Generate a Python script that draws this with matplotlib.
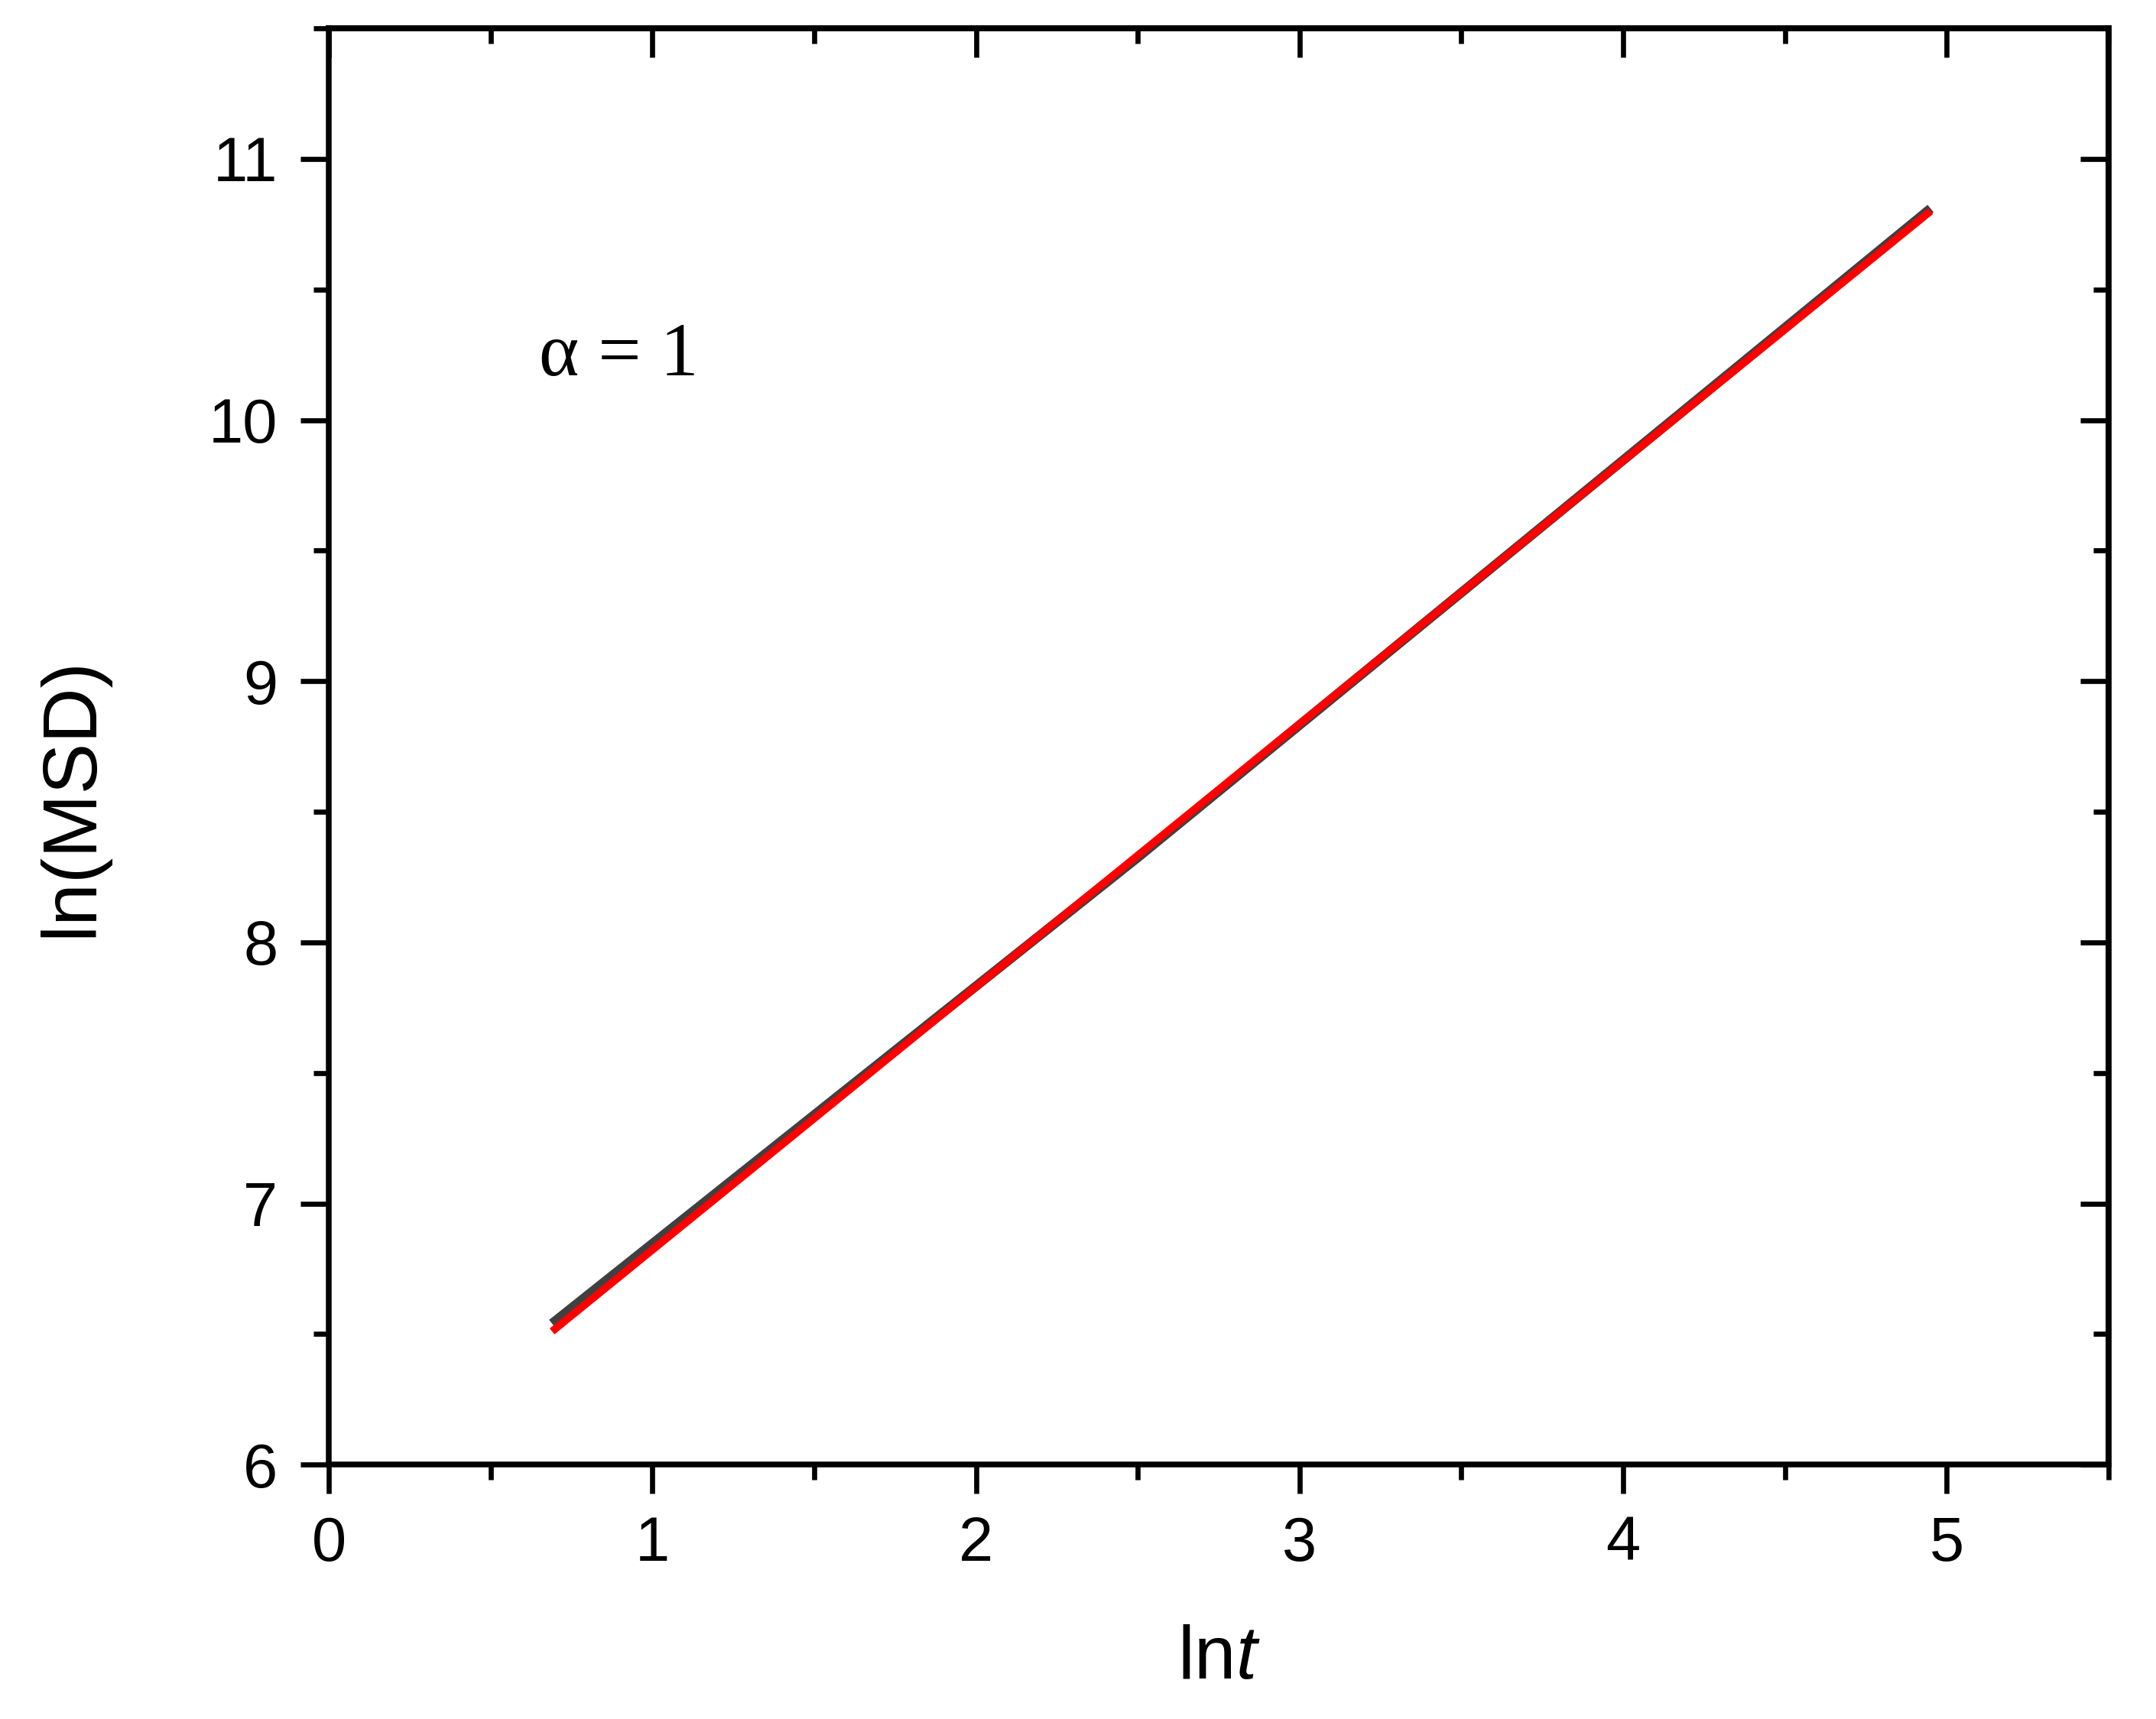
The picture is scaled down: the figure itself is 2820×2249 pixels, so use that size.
import matplotlib.pyplot as plt
from matplotlib.ticker import MultipleLocator

# ln(t) vs ln(MSD), simulation (black) and fit (red)
sim_lnt = [0.69, 2.5, 4.95]
sim_lnmsd = [6.54, 8.325, 10.81]
fit_lnt = [0.69, 4.95]
fit_lnmsd = [6.51, 10.80]

x_ticks = [0, 1, 2, 3, 4, 5]
y_ticks = [6, 7, 8, 9, 10, 11]

plt.rcParams['font.family'] = ['Liberation Sans', 'DejaVu Sans']
plt.rcParams['mathtext.fontset'] = 'custom'
plt.rcParams['mathtext.rm'] = 'Liberation Sans'
plt.rcParams['mathtext.it'] = 'Liberation Sans:italic'

fig = plt.figure(figsize=(9.4, 7.4967), dpi=300)
ax = fig.add_axes([0.1525, 0.148, 0.8255, 0.8355])

ax.plot(sim_lnt, sim_lnmsd, color='#404040', lw=3.0, solid_capstyle='butt')
ax.plot(fit_lnt, fit_lnmsd, color='#ff0000', lw=2.4, solid_capstyle='butt')

ax.set_xlim(0, 5.5)
ax.set_ylim(6, 11.5)
ax.set_xticks(x_ticks)
ax.set_yticks(y_ticks)
ax.xaxis.set_minor_locator(MultipleLocator(0.5))
ax.yaxis.set_minor_locator(MultipleLocator(0.5))

for s in ax.spines.values():
    s.set_linewidth(1.8)

ax.tick_params(which='both', direction='out', width=1.6, labelsize=19.5,
               top=False, right=False)
ax.tick_params(which='major', length=9, pad=7)
ax.tick_params(which='minor', length=4.8)

# inward ticks on top and right
ax2 = ax.secondary_xaxis('top')
ax2.set_xticks(x_ticks)
ax2.xaxis.set_minor_locator(MultipleLocator(0.5))
ax2.tick_params(which='both', direction='in', width=1.6, labeltop=False)
ax2.tick_params(which='major', length=9)
ax2.tick_params(which='minor', length=4.8)
ax2.spines['top'].set_linewidth(1.8)
ax3 = ax.secondary_yaxis('right')
ax3.set_yticks(y_ticks)
ax3.yaxis.set_minor_locator(MultipleLocator(0.5))
ax3.tick_params(which='both', direction='in', width=1.6, labelright=False)
ax3.tick_params(which='major', length=9)
ax3.tick_params(which='minor', length=4.8)
ax3.spines['right'].set_linewidth(1.8)

ax.set_xlabel(r'ln$\mathit{t}$', fontsize=23.5, labelpad=16)
ax.set_ylabel('ln(MSD)', fontsize=24)
ax.yaxis.set_label_coords(-0.124, 0.465)

ax.text(0.65, 10.17, 'α = 1', fontsize=24, family='Liberation Serif')

fig.savefig('out.png', dpi=300)
